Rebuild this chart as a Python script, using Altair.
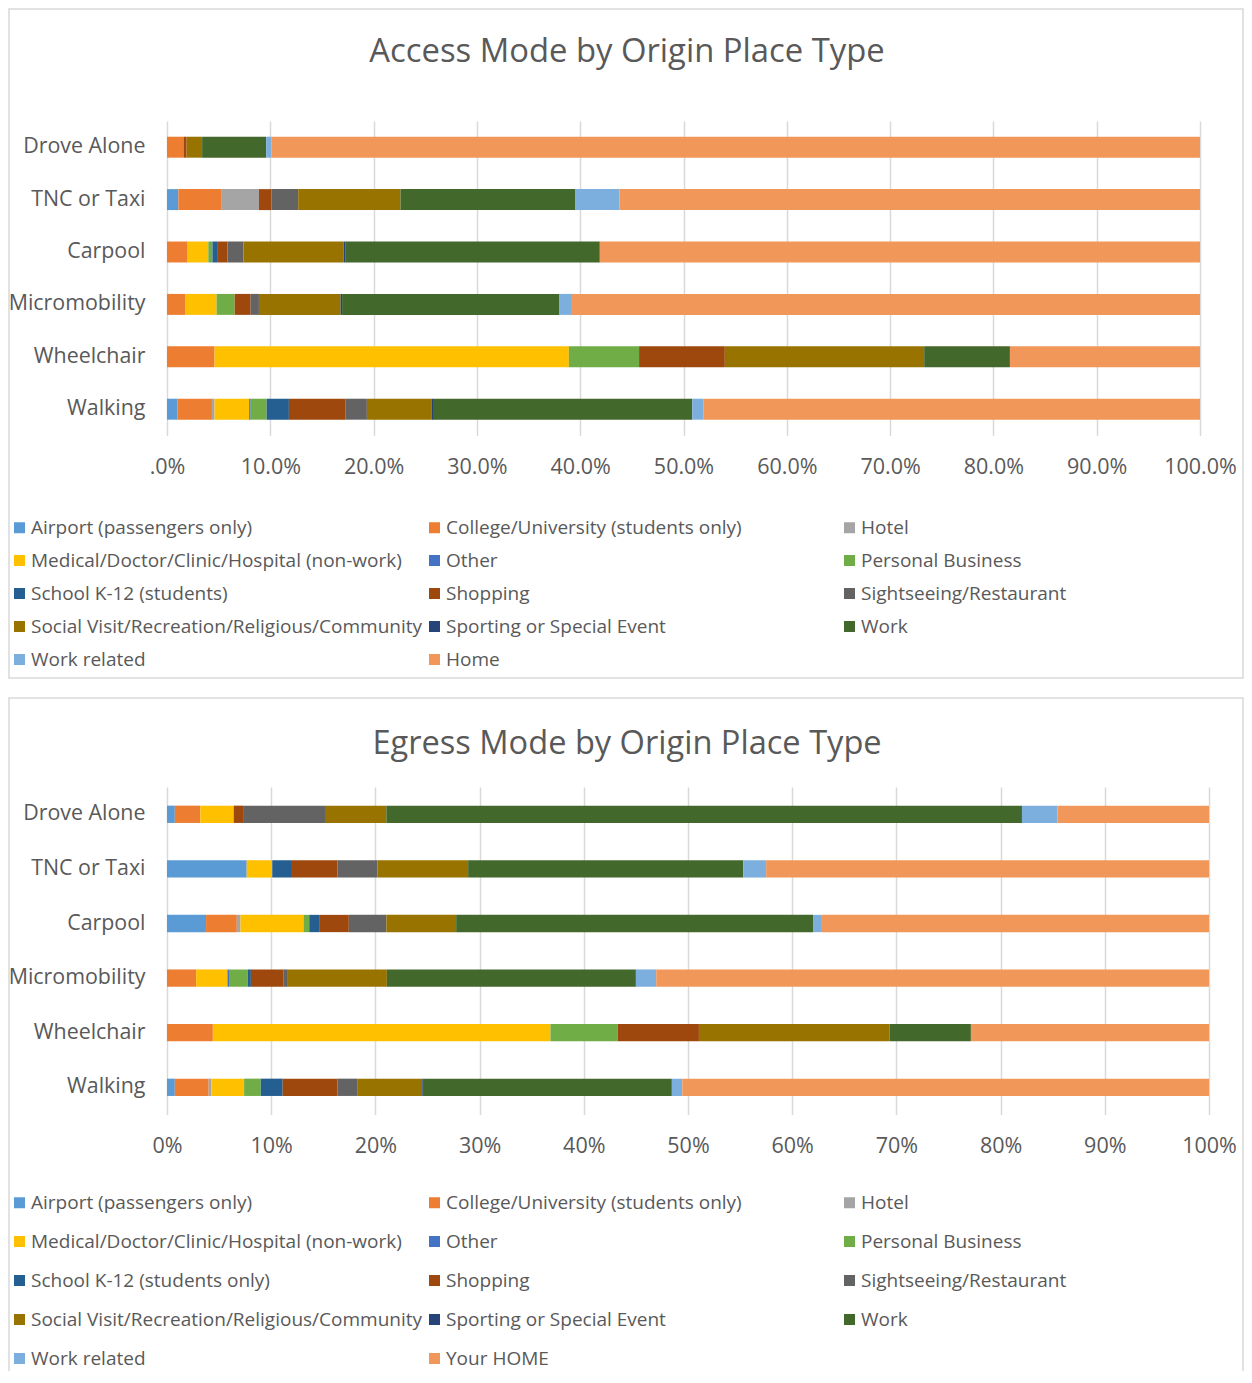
import altair as alt
import pandas as pd

modes = ["Drove Alone", "TNC or Taxi", "Carpool", "Micromobility", "Wheelchair", "Walking"]

access_categories = [
    "Airport (passengers only)", "College/University (students only)", "Hotel",
    "Medical/Doctor/Clinic/Hospital (non-work)", "Other", "Personal Business",
    "School K-12 (students)", "Shopping", "Sightseeing/Restaurant",
    "Social Visit/Recreation/Religious/Community", "Sporting or Special Event", "Work",
    "Work related", "Home",
]
egress_categories = [
    "Airport (passengers only)", "College/University (students only)", "Hotel",
    "Medical/Doctor/Clinic/Hospital (non-work)", "Other", "Personal Business",
    "School K-12 (students only)", "Shopping", "Sightseeing/Restaurant",
    "Social Visit/Recreation/Religious/Community", "Sporting or Special Event", "Work",
    "Work related", "Your HOME",
]
colors = [
    "#5B9BD5", "#ED7D31", "#A5A5A5", "#FFC000", "#4472C4", "#70AD47", "#255E91",
    "#9E480E", "#636363", "#997300", "#264478", "#43682B", "#7CAFDD", "#F1975A",
]

# Access shares (%), in category order
access_drove_alone = [0, 1.6, 0, 0, 0, 0, 0, 0.3, 0, 1.5, 0, 6.2, 0.5, 89.9]
access_tnc_taxi = [1.1, 4.2, 3.6, 0, 0, 0, 0, 1.2, 2.6, 9.9, 0, 16.9, 4.3, 56.2]
access_carpool = [0, 2.0, 0, 2.0, 0, 0.4, 0.45, 1.0, 1.55, 9.7, 0.2, 24.6, 0, 58.1]
access_micromobility = [0, 1.8, 0, 3.0, 0, 1.75, 0, 1.55, 0.8, 7.9, 0.15, 21.05, 1.2, 60.8]
access_wheelchair = [0, 4.6, 0, 34.3, 0, 6.8, 0, 8.3, 0, 19.3, 0, 8.3, 0, 18.4]
access_walking = [1.0, 3.35, 0.25, 3.35, 0.15, 1.55, 2.15, 5.5, 2.05, 6.25, 0.15, 25.1, 1.1, 48.05]

# Egress shares (%), in category order
egress_drove_alone = [0.75, 2.45, 0, 3.2, 0, 0, 0, 0.9, 7.95, 5.8, 0, 61.0, 3.4, 14.55]
egress_tnc_taxi = [7.65, 0, 0, 2.45, 0, 0, 1.8, 4.45, 3.85, 8.7, 0, 26.4, 2.2, 42.5]
egress_carpool = [3.75, 2.95, 0.35, 6.05, 0, 0.55, 0.95, 2.85, 3.6, 6.7, 0, 34.25, 0.85, 37.15]
egress_micromobility = [0, 2.8, 0, 3.0, 0.15, 1.8, 0.3, 3.15, 0.4, 9.5, 0, 23.9, 1.95, 53.05]
egress_wheelchair = [0, 4.4, 0, 32.4, 0, 6.45, 0, 7.8, 0, 18.3, 0, 7.8, 0, 22.85]
egress_walking = [0.75, 3.25, 0.25, 3.15, 0, 1.6, 2.1, 5.25, 1.9, 6.25, 0.15, 23.8, 1.0, 50.55]

access_rows = [access_drove_alone, access_tnc_taxi, access_carpool,
               access_micromobility, access_wheelchair, access_walking]
egress_rows = [egress_drove_alone, egress_tnc_taxi, egress_carpool,
               egress_micromobility, egress_wheelchair, egress_walking]

FONT = "Open Sans"
TXT = "#595959"


def build_df(rows, cats):
    recs = []
    for mode, vals in zip(modes, rows):
        for i, (c, v) in enumerate(zip(cats, vals)):
            recs.append({"mode": mode, "cat": c, "order": i, "value": v})
    return pd.DataFrame(recs)


def panel(df, cats, title, title_size, width, step, pinner, label_expr, title_y,
          border_top, border_bottom, legend_y, row_pad, col_pad):
    height = step * 6
    bars = alt.Chart(df).mark_bar().encode(
        x=alt.X("value:Q", stack="zero",
                scale=alt.Scale(domain=[0, 100], nice=False),
                axis=alt.Axis(values=list(range(0, 101, 10)), labelExpr=label_expr,
                              title=None, grid=True, gridColor="#D9D9D9", gridWidth=1.5,
                              domain=False, ticks=False, labelFontSize=21.5,
                              labelColor=TXT, labelFont=FONT, labelPadding=21,
                              labelFlush=False, labelOverlap=False)),
        y=alt.Y("mode:N", sort=modes,
                scale=alt.Scale(paddingInner=pinner, paddingOuter=pinner / 2),
                axis=alt.Axis(title=None, domain=False, ticks=False, grid=False,
                              labelFontSize=21.4, labelColor=TXT, labelFont=FONT,
                              labelPadding=22)),
        color=alt.Color("cat:N", scale=alt.Scale(domain=cats, range=colors),
                        legend=alt.Legend(title=None, orient="none", legendX=-157,
                                          legendY=legend_y, columns=3, gridAlign="all",
                                          direction="horizontal", padding=0,
                                          columnPadding=col_pad, rowPadding=row_pad,
                                          symbolType="square", symbolSize=121,
                                          symbolStrokeWidth=0, labelFontSize=19,
                                          labelColor=TXT, labelFont=FONT,
                                          labelOffset=2, labelLimit=600)),
        order=alt.Order("order:Q", sort="ascending"),
    )
    one = pd.DataFrame({"k": [0]})
    border = alt.Chart(one).mark_rect(filled=False, stroke="#D9D9D9", strokeWidth=1.5).encode(
        x=alt.value(-158), x2=alt.value(1076),
        y=alt.value(border_top), y2=alt.value(border_bottom))
    ttl = alt.Chart(one).mark_text(text=title, fontSize=title_size, color=TXT, font=FONT,
                                   align="center", baseline="alphabetic").encode(
        x=alt.value(460), y=alt.value(title_y))
    return alt.layer(border, bars, ttl).properties(width=width, height=height)


p1 = panel(build_df(access_rows, access_categories), access_categories,
           "Access Mode by Origin Place Type", 32.8, 1033, 52.4, 0.6,
           "datum.value == 0 ? '.0%' : datum.value + '.0%'",
           -59, -112, 557, 397, 13, 2)
p2 = panel(build_df(egress_rows, egress_categories), egress_categories,
           "Egress Mode by Origin Place Type", 32.6, 1042, 54.6, 0.683,
           "datum.value + '%'",
           -33, -89, 604, 406, 19, 2)

chart = alt.vconcat(p1, p2, spacing=18).resolve_scale(
    color="independent", x="independent", y="independent"
).resolve_legend(color="independent").properties(
    padding={"left": 0, "top": 0, "right": 0, "bottom": -21}, background="white"
).configure_view(stroke=None)

chart.save("out.html", embed_options={"renderer": "svg", "actions": False})
